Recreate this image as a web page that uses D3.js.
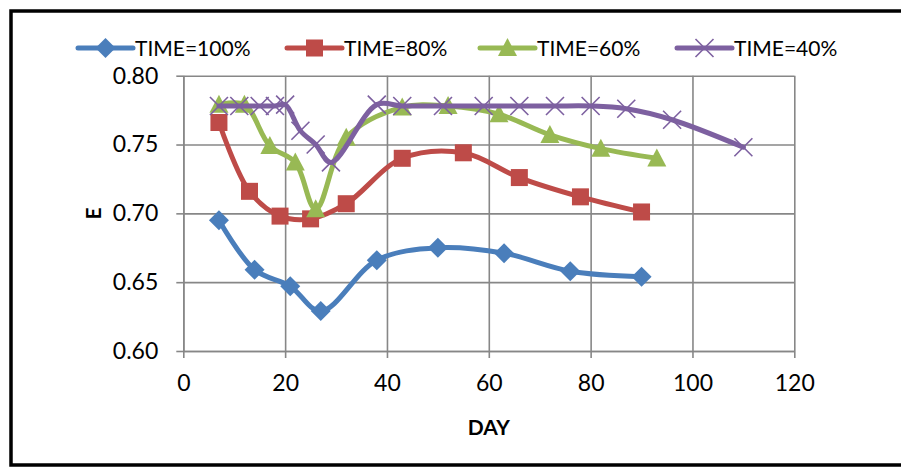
<!DOCTYPE html>
<html>
<head>
<meta charset="utf-8">
<script src="https://cdn.jsdelivr.net/npm/d3@7/dist/d3.min.js"></script>
<style>
  html, body { margin: 0; padding: 0; background: #fff; }
  svg { display: block; font-family: Lato, "Open Sans", Arial, sans-serif; }
</style>
</head>
<body>
<svg id="chart" width="901" height="468"></svg>
<script>
// ---- data ----
const seriesNames = ["TIME=100%", "TIME=80%", "TIME=60%", "TIME=40%"];
const days100 = [7, 14, 21, 27, 38, 50, 63, 76, 90];
const e100    = [0.695, 0.659, 0.647, 0.629, 0.666, 0.675, 0.671, 0.658, 0.654];
const days80  = [7, 13, 19, 25, 32, 43, 55, 66, 78, 90];
const e80     = [0.766, 0.716, 0.698, 0.696, 0.707, 0.740, 0.744, 0.726, 0.712, 0.701];
const days60  = [7, 12, 17, 22, 26, 32, 43, 52, 62, 72, 82, 93];
const e60     = [0.779, 0.779, 0.749, 0.737, 0.703, 0.755, 0.777, 0.778, 0.772, 0.757, 0.747, 0.740];
const days40  = [7, 11, 15, 18, 20, 23, 26, 29, 38, 43, 51, 59, 66, 73, 80, 87, 96, 110];
const e40     = [0.778, 0.778, 0.778, 0.778, 0.779, 0.760, 0.750, 0.737, 0.779, 0.778, 0.778, 0.778, 0.778, 0.778, 0.778, 0.776, 0.768, 0.748];
const xTicks = [0, 20, 40, 60, 80, 100, 120];
const yTicks = [0.60, 0.65, 0.70, 0.75, 0.80];
const xTitle = "DAY";
const yTitle = "E";

const colors = ["#4A7EBB", "#BE4B48", "#98B954", "#7D60A0"];
const markers = ["diamond", "square", "triangle", "cross"];
const series = [
  {days: days100, vals: e100},
  {days: days80, vals: e80},
  {days: days60, vals: e60},
  {days: days40, vals: e40}
].map((s, i) => ({name: seriesNames[i], color: colors[i], marker: markers[i],
  pts: s.days.map((d, j) => [d, s.vals[j]])}));

const svg = d3.select("#chart");

// frame (right edge runs off the picture)
svg.append("rect").attr("x", 11).attr("y", 11).attr("width", 960).attr("height", 454)
  .attr("fill", "#fff").attr("stroke", "#000").attr("stroke-width", 3.5);

const x = d3.scaleLinear().domain([0, 120]).range([183.3, 794.3]);
const y = d3.scaleLinear().domain([0.6, 0.8]).range([351, 75.7]);

const gridColor = "#878787";

// grid
const gx = svg.append("g").attr("transform", `translate(0,${y(0.6)})`)
  .call(d3.axisBottom(x).tickValues(xTicks).tickSize(-(y(0.6) - y(0.8))).tickFormat(""));
gx.select(".domain").remove();
gx.selectAll("line").attr("stroke", gridColor).attr("stroke-width", 1.6);
const gy = svg.append("g").attr("transform", `translate(${x(0)},0)`)
  .call(d3.axisLeft(y).tickValues(yTicks).tickSize(-(x(120) - x(0))).tickFormat(""));
gy.select(".domain").remove();
gy.selectAll("line").attr("stroke", gridColor).attr("stroke-width", 1.6);

// axes with outward ticks and labels
const ax = svg.append("g").attr("transform", `translate(0,${y(0.6)})`)
  .call(d3.axisBottom(x).tickValues(xTicks).tickSize(7).tickSizeOuter(0).tickPadding(17).tickFormat(d3.format("d")));
ax.select(".domain").attr("stroke", gridColor).attr("stroke-width", 1.6);
ax.selectAll("line").attr("stroke", gridColor).attr("stroke-width", 1.6);
ax.selectAll("text").attr("font-size", 23).attr("fill", "#000").attr("font-family", "Lato, Arial, sans-serif");

const ay = svg.append("g").attr("transform", `translate(${x(0)},0)`)
  .call(d3.axisLeft(y).tickValues(yTicks).tickSize(7).tickSizeOuter(0).tickPadding(18).tickFormat(d3.format(".2f")));
ay.select(".domain").attr("stroke", gridColor).attr("stroke-width", 1.6);
ay.selectAll("line").attr("stroke", gridColor).attr("stroke-width", 1.6);
ay.selectAll("text").attr("font-size", 23).attr("fill", "#000").attr("font-family", "Lato, Arial, sans-serif");

// axis titles
svg.append("text").attr("x", (x(0) + x(120)) / 2).attr("y", 435).attr("text-anchor", "middle")
  .attr("font-size", 21).attr("font-weight", "bold").text(xTitle);
svg.append("text").attr("transform", `translate(101,${(y(0.6) + y(0.8)) / 2}) rotate(-90)`)
  .attr("text-anchor", "middle").attr("font-size", 21).attr("font-weight", "bold").text(yTitle);

// marker drawing
function drawMarker(g, type, color, cx, cy) {
  if (type === "diamond") {
    const r = 10;
    g.append("path").attr("d", `M${cx},${cy - r}L${cx + r},${cy}L${cx},${cy + r}L${cx - r},${cy}Z`).attr("fill", color);
  } else if (type === "square") {
    const s = 17;
    g.append("rect").attr("x", cx - s / 2).attr("y", cy - s / 2).attr("width", s).attr("height", s).attr("fill", color);
  } else if (type === "triangle") {
    const w = 19, h = 18;
    g.append("path").attr("d", `M${cx},${cy - h * 0.55}L${cx + w / 2},${cy + h * 0.45}L${cx - w / 2},${cy + h * 0.45}Z`).attr("fill", color);
  } else if (type === "cross") {
    const r = 9;
    g.append("path").attr("d", `M${cx - r},${cy - r}L${cx + r},${cy + r}M${cx - r},${cy + r}L${cx + r},${cy - r}`)
      .attr("stroke", color).attr("stroke-width", 1.6).attr("fill", "none");
  }
}

const line = d3.line().x(d => x(d[0])).y(d => y(d[1])).curve(d3.curveCatmullRom.alpha(0.5));

series.forEach(s => {
  const g = svg.append("g");
  g.append("path").attr("d", line(s.pts)).attr("fill", "none").attr("stroke", s.color)
    .attr("stroke-width", 5).attr("stroke-linejoin", "round").attr("stroke-linecap", "round");
  s.pts.forEach(p => drawMarker(g, s.marker, s.color, x(p[0]), y(p[1])));
});

// legend
const legendX = [78, 287, 480, 677];
series.forEach((s, i) => {
  const g = svg.append("g");
  const lx = legendX[i], ly = 48;
  g.append("line").attr("x1", lx).attr("x2", lx + 55).attr("y1", ly).attr("y2", ly)
    .attr("stroke", s.color).attr("stroke-width", 5).attr("stroke-linecap", "round");
  drawMarker(g, s.marker, s.color, lx + 27.5, ly);
  g.append("text").attr("x", lx + 57).attr("y", ly + 8).attr("font-size", 21).attr("fill", "#000").text(s.name);
});
</script>
</body>
</html>
